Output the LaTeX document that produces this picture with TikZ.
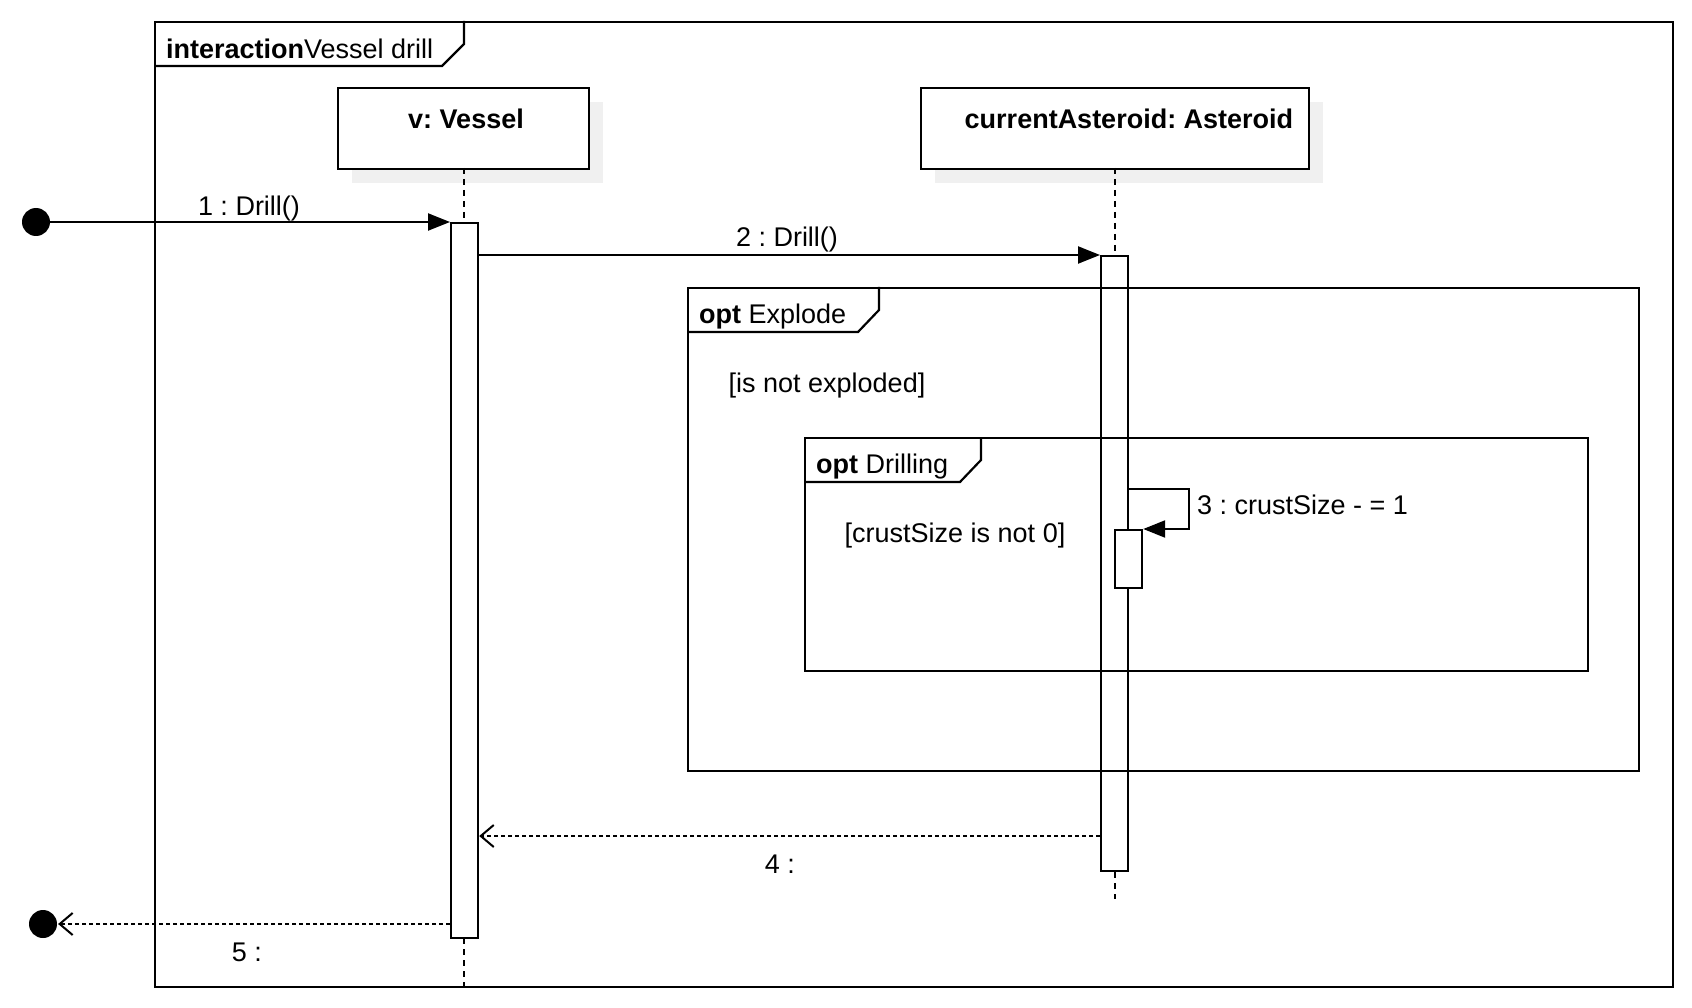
\documentclass[tikz,border=0pt]{standalone}
\usepackage{fontspec}
\setmainfont{Liberation Sans}
\usetikzlibrary{arrows.meta,calc}
\definecolor{shadowgray}{HTML}{F0F0F0}
\frenchspacing
\begin{document}
\begin{tikzpicture}[x=1pt,y=-1pt,line width=2.2pt,
  every node/.style={font=\fontsize{27}{31}\selectfont,inner sep=0pt},
  objbox/.style={draw,fill=white,anchor=north west,minimum width=#1,minimum height=81pt},
  shadowbox/.style={fill=shadowgray,draw=none,anchor=north west,minimum width=#1,minimum height=81pt},
  actbox/.style={draw,fill=white,anchor=north west,minimum width=27pt,minimum height=#1},
  framebox/.style={draw,anchor=north west,minimum width=#1},
  lifeline/.style={line width=1.6pt,dash pattern=on 6pt off 5pt},
  callmsg/.style={-{Triangle[length=22pt,width=17pt]}},
  retmsg/.style={dash pattern=on 4pt off 3pt,-{Straight Barb[length=13pt,width=22pt,line width=2pt]}},
  dot/.style={circle,fill=black,minimum size=28pt},
  lbl/.style={anchor=center},
  ]
\useasboundingbox (0,0) rectangle (1692,1008);

% object boxes with shadows
\node[shadowbox=251pt] (vsh) at (351,101) {};
\node[objbox=251pt] (v) at (337,87) {};
\node[font=\fontsize{27}{31}\selectfont\bfseries] (vt) at (466,119) {v: Vessel};
\node[shadowbox=388pt] (ash) at (934,101) {};
\node[objbox=388pt] (a) at (920,87) {};
\node[font=\fontsize{27}{31}\selectfont\bfseries] (at) at (1129,119) {currentAsteroid: Asteroid};

% lifelines
\coordinate (vend) at (464,986);
\coordinate (aend) at (1115,899);
\draw[lifeline] (464,168) -- (vend);
\draw[lifeline] (1115,168) -- (aend);

% activations
\node[actbox=715pt] (va) at (450,222) {};
\node[actbox=615pt] (aa) at (1100,255) {};
\node[actbox=58pt] (na) at (1114,529) {};

% outer frame
\node[framebox=1518pt,minimum height=965pt] (frame) at (154,21) {};
\draw (frame.north west) ++(310,0) -- ++(0,23) -- ++(-22,22) -- ($(frame.north west)+(0,45)$);
\node[anchor=west] (ftitle) at (165,49) {\textbf{interaction}Vessel drill};

% opt Explode
\node[framebox=951pt,minimum height=483pt] (explode) at (687,287) {};
\draw (explode.north west) ++(192,0) -- ++(0,23) -- ++(-21,22) -- ($(explode.north west)+(0,45)$);
\node[anchor=west] (etitle) at (698,317) {\textbf{opt} Explode};
\node[lbl] (eguard) at (827,386) {[is not exploded]};

% opt Drilling
\node[framebox=783pt,minimum height=233pt] (drill) at (804,437) {};
\draw (drill.north west) ++(177,0) -- ++(0,23) -- ++(-21,22) -- ($(drill.north west)+(0,45)$);
\node[anchor=west] (dtitle) at (815,467) {\textbf{opt} Drilling};
\node[lbl] (dguard) at (955,536) {[crustSize is not 0]};

% dots
\node[dot] (start) at (36,222) {};
\node[dot] (stop) at (43,924) {};

% message 1
\draw[callmsg] (start.center) -- (va.north west);
\node[lbl] (m1) at (249,209) {1 : Drill()};

% message 2
\draw[callmsg] (va.north east |- 0,255) -- (aa.north west);
\node[lbl] (m2) at (787,240) {2 : Drill()};

% message 3 (self)
\draw[callmsg] (aa.east |- 0,489) -- (1189,489) -- (1189,529) -- (na.north east);
\node[anchor=west] (m3) at (1196,505) {3 : crustSize - = 1};

% message 4 (return)
\draw[retmsg] (aa.west |- 0,836) -- (va.east |- 0,836);
\node[lbl] (m4) at (780,864) {4 :};

% message 5 (return)
\draw[retmsg] (va.west |- 0,924) -- (stop.east);
\node[lbl] (m5) at (247,952) {5 :};
\end{tikzpicture}
\end{document}
